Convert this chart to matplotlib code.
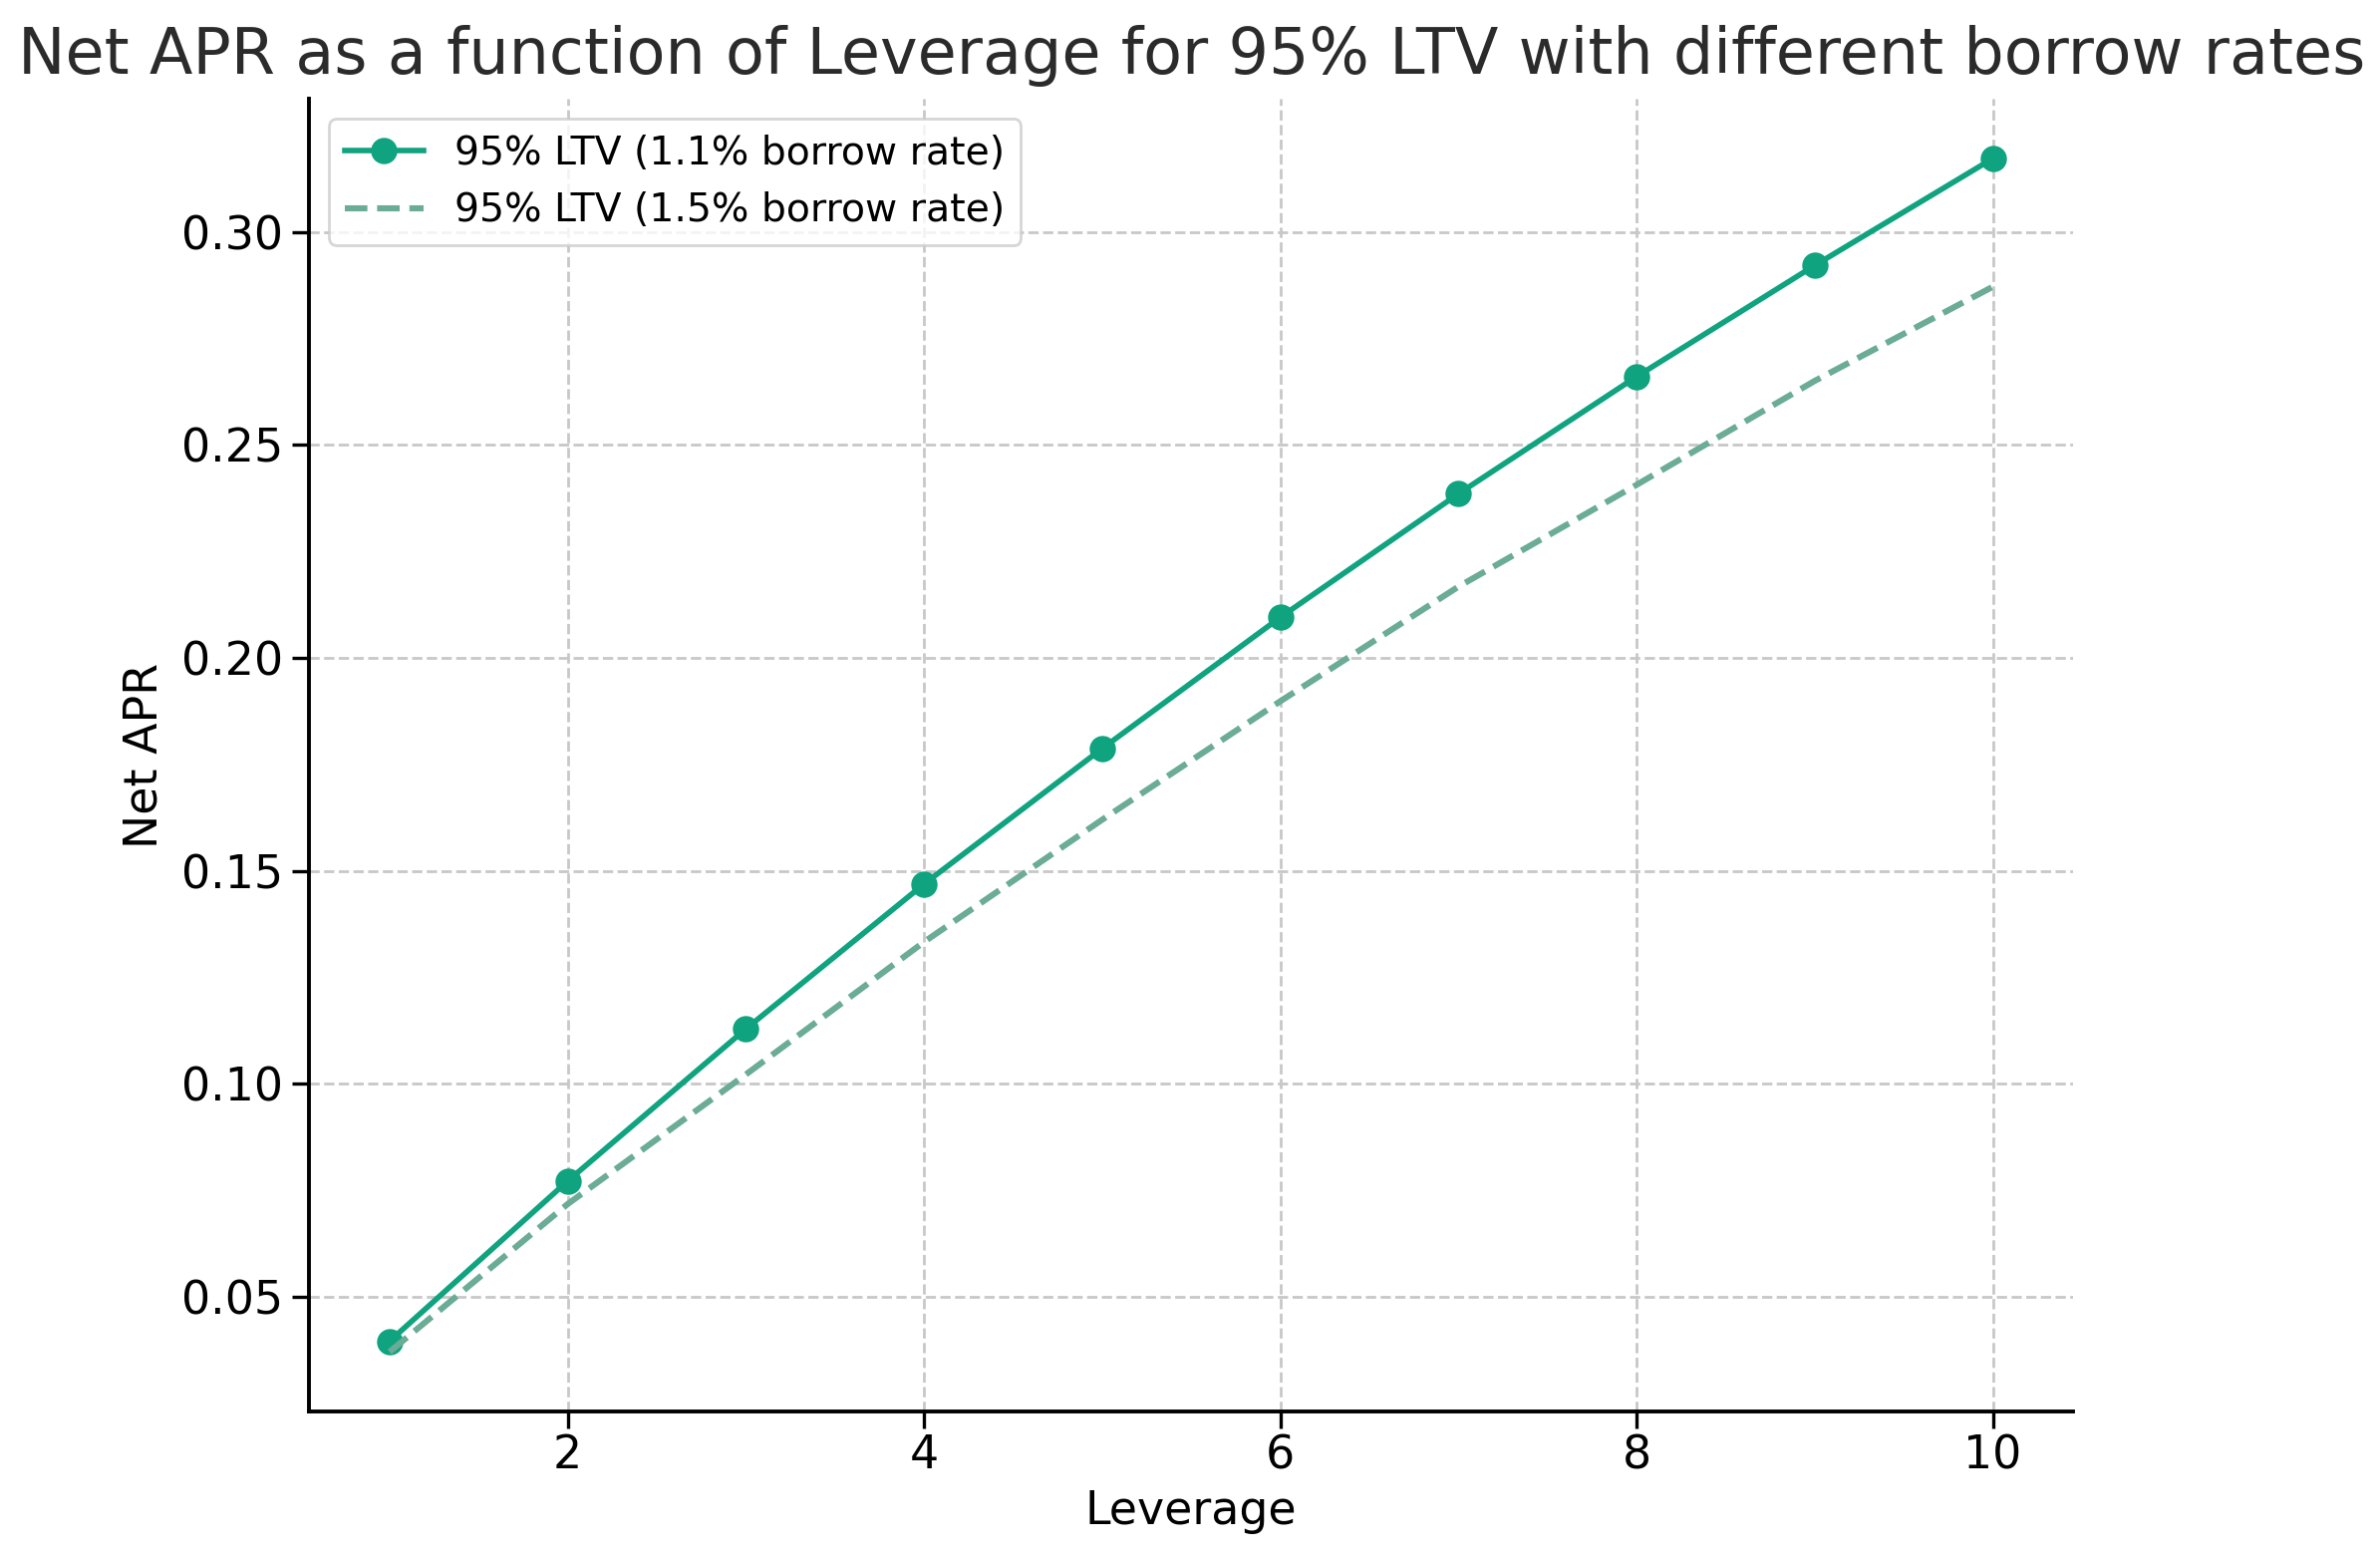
import matplotlib
matplotlib.use("Agg")
import matplotlib.pyplot as plt

# ── Data ────────────────────────────────────────────────────────────────
leverage = [1, 2, 3, 4, 5, 6, 7, 8, 9, 10]
apr_11 = [0.0396, 0.0772, 0.1129, 0.1469, 0.1787, 0.2095, 0.2385, 0.2660, 0.2921, 0.3172]
apr_15 = [0.0371, 0.0718, 0.1022, 0.1333, 0.1620, 0.1898, 0.2167, 0.2406, 0.2650, 0.2871]

label_11 = "95% LTV (1.1% borrow rate)"
label_15 = "95% LTV (1.5% borrow rate)"

fig = plt.figure(figsize=(11.94, 7.82), dpi=200)
ax = fig.add_axes([0.130, 0.0946, 0.741, 0.842])

ax.plot(leverage, apr_11, "-o", color="#10a37f", linewidth=2, markersize=8.5, label=label_11)
ax.plot(leverage, apr_15, "--", color="#6aac96", linewidth=2.2, label=label_15)

ax.set_title("Net APR as a function of Leverage for 95% LTV with different borrow rates",
             fontsize=22.9, color="#2b2b2b", pad=9)
ax.set_xlabel("Leverage", fontsize=16.5, labelpad=4)
ax.set_ylabel("Net APR", fontsize=16.5, labelpad=5)
ax.tick_params(labelsize=16.5, length=6, width=1.2)
ax.tick_params(axis="x", pad=2)

ax.grid(True, linestyle="--", color="#c8c8c8", linewidth=1)
ax.set_axisbelow(True)
ax.spines["top"].set_visible(False)
ax.spines["right"].set_visible(False)
ax.spines["left"].set_linewidth(1.4)
ax.spines["bottom"].set_linewidth(1.4)

ax.legend(loc="upper left", fontsize=14.2, frameon=True, edgecolor="#cccccc")

fig.savefig("out.png", dpi=200)
